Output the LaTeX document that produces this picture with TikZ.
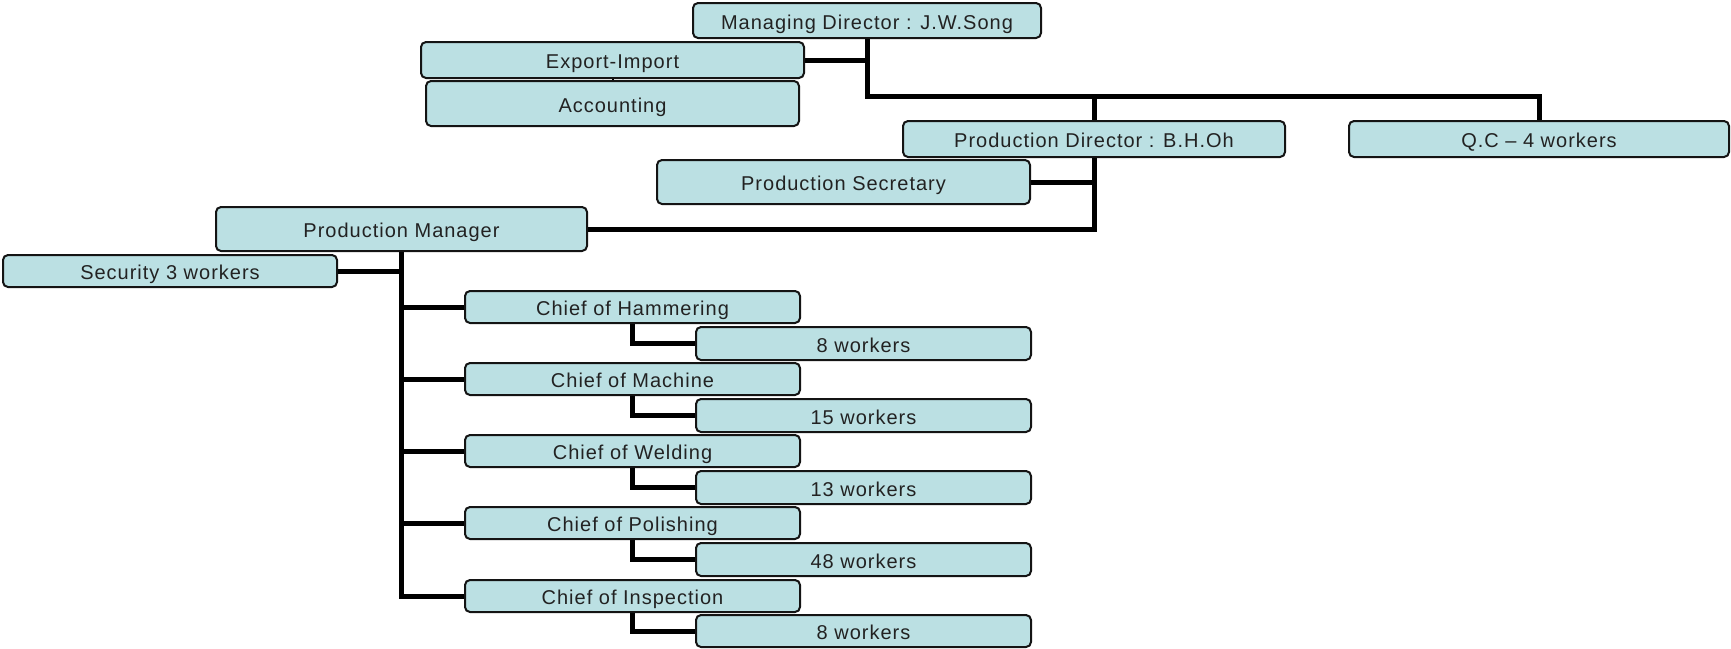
\documentclass[tikz,border=0pt]{standalone}
\usepackage{fontspec}
\setmainfont{Liberation Sans}[LetterSpace=5]
\usetikzlibrary{backgrounds}
\definecolor{boxfill}{RGB}{187,224,227}
\definecolor{boxline}{RGB}{20,20,20}
\definecolor{txt}{RGB}{34,34,34}
\tikzset{
  box/.style={draw=boxline, line width=2pt, fill=boxfill, rounded corners=5pt,
    inner sep=0pt, outer sep=0pt, text=txt, text height=17.3pt, text depth=0pt,
    font=\fontsize{20}{24}\selectfont},
  conn/.style={draw=black, line width=5pt, line cap=rect},
  thinconn/.style={draw=black, line width=2pt}
}
\newcommand{\bx}[6]{\node[box, minimum width={(#4-#2)*1pt}, minimum height={(#5-#3)*1pt}] (#1) at ({(#2+#4)/2},{(#3+#5)/2}) {#6};}
\begin{document}
\begin{tikzpicture}[x=1pt,y=-1pt]
\useasboundingbox (0,0) rectangle (1731,648);
\bx{md}{693}{3}{1041}{38}{Managing Director : J.W.Song}
\bx{ei}{421}{42}{804}{78}{Export-Import}
\bx{acc}{426}{81}{799}{126}{Accounting}
\bx{pd}{903}{121}{1285}{157}{Production Director : B.H.Oh}
\bx{qc}{1349}{121}{1729}{157}{Q.C – 4 workers}
\bx{ps}{657}{160}{1030}{204}{Production Secretary}
\bx{pm}{216}{207}{587}{251}{Production Manager}
\bx{sec}{3}{255}{337}{287}{Security 3 workers}
\bx{c1}{465}{291}{800}{323}{Chief of Hammering}
\bx{c2}{465}{363}{800}{395}{Chief of Machine}
\bx{c3}{465}{435}{800}{467}{Chief of Welding}
\bx{c4}{465}{507}{800}{539}{Chief of Polishing}
\bx{c5}{465}{580}{800}{612}{Chief of Inspection}
\bx{w1}{696}{327}{1031}{360}{8 workers}
\bx{w2}{696}{399}{1031}{432}{15 workers}
\bx{w3}{696}{471}{1031}{504}{13 workers}
\bx{w4}{696}{543}{1031}{576}{48 workers}
\bx{w5}{696}{615}{1031}{647}{8 workers}
\coordinate (bus) at (0,96);
\begin{pgfonlayer}{background}
\draw[conn] (md.south) -- (md.south |- bus) -| (qc.north);
\draw[conn] (pd.north) -- (pd.north |- bus);
\draw[conn] (ei.east) -- (ei.east -| md.south);
\draw[thinconn] (ei.south) -- (acc.north);
\draw[conn] (pd.south) |- (pm.east);
\draw[conn] (ps.east) -- (ps.east -| pd.south);
\draw[conn] (pm.south) |- (c5.west);
\draw[conn] (sec.east) -- (sec.east -| pm.south);
\foreach \c in {c1,c2,c3,c4}{\draw[conn] (\c.west -| pm.south) -- (\c.west);}
\draw[conn] (c1.south) |- (w1.west);
\draw[conn] (c2.south) |- (w2.west);
\draw[conn] (c3.south) |- (w3.west);
\draw[conn] (c4.south) |- (w4.west);
\draw[conn] (c5.south) |- (w5.west);
\end{pgfonlayer}
\end{tikzpicture}
\end{document}
